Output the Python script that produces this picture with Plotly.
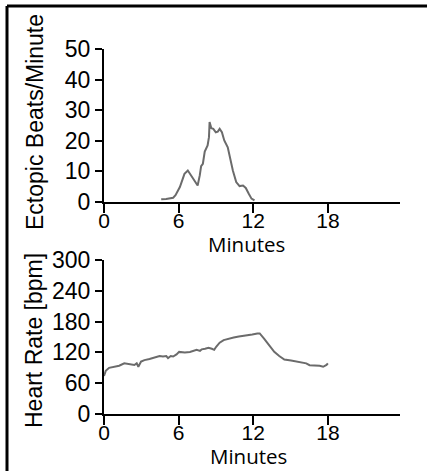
import plotly.graph_objects as go
from plotly.subplots import make_subplots

# Ectopic beats per minute (top panel)
ectopic_min = [4.6, 5.0, 5.56, 5.75, 6.1, 6.3, 6.47, 6.74, 7.0, 7.29, 7.53, 7.7, 7.81, 7.95, 8.1,
               8.33, 8.44, 8.49, 8.63, 8.79, 8.99, 9.15, 9.3, 9.48, 9.67, 9.95, 10.14, 10.36,
               10.63, 10.9, 11.18, 11.4, 11.64, 11.86, 12.1]
ectopic_val = [0.9, 1.0, 1.4, 2.2, 4.9, 7.5, 9.2, 10.3, 8.7, 7.1, 5.4, 8.7, 11.7, 12.5, 16.5,
               18.5, 21.2, 26.1, 24.1, 23.9, 22.8, 23.0, 23.9, 22.8, 20.1, 17.9, 14.1, 10.3,
               6.5, 5.2, 5.4, 4.6, 2.7, 1.1, 0.5]

# Heart rate (bottom panel)
hr_min = [0.0, 0.14, 0.41, 0.81, 1.22, 1.63, 2.03, 2.44, 2.63, 2.76, 2.98, 3.25, 3.66, 4.07,
          4.47, 4.74, 5.01, 5.15, 5.37, 5.56, 5.83, 6.04, 6.5, 6.91, 7.18, 7.45, 7.72, 7.86,
          8.13, 8.4, 8.67, 8.86, 9.02, 9.3, 9.62, 10.03, 10.43, 10.84, 11.25, 11.65, 11.92,
          12.33, 12.52, 12.87, 13.28, 13.69, 14.09, 14.5, 15.04, 15.45, 15.85, 16.26, 16.53,
          16.94, 17.34, 17.62, 17.89, 18.0]
hr_bpm = [74, 84, 90, 92, 94, 98.7, 96.7, 95.5, 98.7, 92, 102, 105, 107, 110,
          113, 112, 113, 109, 113, 112, 116, 121, 120, 121, 123, 125, 123, 126,
          127, 129, 127, 125, 131, 139, 144, 147, 149, 151, 152, 154, 155,
          157, 157, 147, 134, 121, 113, 106, 104, 102, 100, 98.7, 95,
          95, 94, 92, 95.5, 98.7]

x_ticks = [0, 6, 12, 18]
top_y_ticks = [0, 10, 20, 30, 40, 50]
bot_y_ticks = [0, 60, 120, 180, 240, 300]

W, H = 427, 471
L, R, T, B = 104, 27, 49, 57
pw, ph = W - L - R, H - T - B

def px_x(p):
    return (p - L) / pw

def px_y(p):
    return (H - B - p) / ph

fig = make_subplots(rows=2, cols=1)
fig.add_trace(go.Scatter(x=ectopic_min, y=ectopic_val, mode="lines",
                         line=dict(color="#6b6b6b", width=2)), row=1, col=1)
fig.add_trace(go.Scatter(x=hr_min, y=hr_bpm, mode="lines",
                         line=dict(color="#6b6b6b", width=2)), row=2, col=1)

ytickfont = dict(family="Liberation Sans, Arial", size=23, color="black")
xtickfont = dict(family="Liberation Sans, Arial", size=21, color="black")
common_x = dict(range=[0, 23.8], tickvals=x_ticks, showline=True, linewidth=2, linecolor="black",
                ticks="outside", ticklen=9, tickwidth=2, tickcolor="black", showgrid=False,
                zeroline=False, tickfont=xtickfont, ticklabelstandoff=-10)
common_y = dict(showline=True, linewidth=2, linecolor="black", ticks="outside", ticklen=7,
                tickwidth=2, tickcolor="black", showgrid=False, zeroline=False,
                tickfont=ytickfont, ticklabelstandoff=0)

fig.update_layout(
    width=W, height=H, margin=dict(l=L, r=R, t=T, b=B),
    paper_bgcolor="white", plot_bgcolor="white", showlegend=False,
    xaxis=dict(domain=[0, 1], anchor="y", **common_x),
    yaxis=dict(domain=[px_y(202), 1], range=[0, 50], tickvals=top_y_ticks, anchor="x", **common_y),
    xaxis2=dict(domain=[0, 1], anchor="y2", **common_x),
    yaxis2=dict(domain=[0, px_y(260)], range=[0, 300], tickvals=bot_y_ticks, anchor="x2", **common_y),
)

labfont = dict(family="Liberation Sans, Arial", size=23, color="black")
minfont = dict(family="Open Sans", size=20.5, color="black")
fig.add_annotation(text="Ectopic Beats/Minute", xref="paper", yref="paper", x=px_x(35), y=px_y(122),
                   textangle=-90, showarrow=False, font=labfont, xanchor="center", yanchor="middle")
fig.add_annotation(text="Heart Rate [bpm]", xref="paper", yref="paper", x=px_x(34), y=px_y(341),
                   textangle=-90, showarrow=False, font=labfont, xanchor="center", yanchor="middle")
fig.add_annotation(text="Minutes", xref="paper", yref="paper", x=px_x(246), y=px_y(244),
                   showarrow=False, font=minfont, xanchor="center", yanchor="middle")
fig.add_annotation(text="Minutes", xref="paper", yref="paper", x=px_x(248), y=px_y(456),
                   showarrow=False, font=minfont, xanchor="center", yanchor="middle")

# frame: left and top edges (right/bottom lie outside the picture)
fig.add_shape(type="line", xref="paper", yref="paper",
              x0=px_x(7), x1=px_x(7), y0=px_y(471), y1=px_y(6),
              line=dict(color="black", width=3), layer="above")
fig.add_shape(type="line", xref="paper", yref="paper",
              x0=px_x(7), x1=px_x(427), y0=px_y(6), y1=px_y(6),
              line=dict(color="black", width=3), layer="above")

fig.write_html("out.html", config={"displayModeBar": False},
               post_script="document.body.style.margin='0';document.body.style.overflow='hidden';")
